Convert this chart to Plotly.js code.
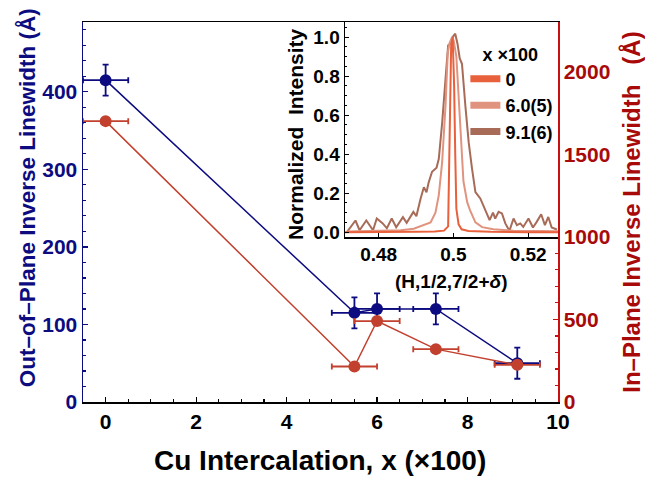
<!DOCTYPE html>
<html>
<head>
<meta charset="utf-8">
<script src="https://cdn.plot.ly/plotly-3.0.1.min.js"></script>
<style>html,body{margin:0;padding:0;background:#fff;}#chart{width:645px;height:479px;}</style>
</head>
<body>
<div id="chart"></div>
<script>
// ---- main panel data ----
const cuX = [0, 5.5, 6.0, 7.3, 9.1];
const cuXErr = [0.5, 0.5, 0.5, 0.5, 0.5];
const outPlane = [415, 115, 120, 120, 50];
const outPlaneErr = [20, 20, 20, 20, 20];
const inPlane = [1700, 215, 490, 320, 225];

// ---- inset data ----
const seriesNames = ["0", "6.0(5)", "9.1(6)"];
const seriesColors = ["#e8603c", "#e0937e", "#a86b58"];
const hX0 = [0.471, 0.480, 0.490, 0.495, 0.4975, 0.4986, 0.4990, 0.4994, 0.4998, 0.5002, 0.5005, 0.5008, 0.5014, 0.5022, 0.5040, 0.510, 0.520, 0.528];
const int0 = [0, 0, 0.002, 0.004, 0.008, 0.03, 0.6, 0.95, 1.0, 0.75, 0.4, 0.12, 0.04, 0.015, 0.006, 0.002, 0, 0];
const hX6 = [0.4715, 0.4805, 0.4859, 0.4894, 0.4921, 0.4939, 0.4952, 0.4961, 0.4970, 0.4979, 0.4985, 0.4990, 0.4997, 0.5001, 0.5008, 0.5014, 0.5021, 0.5027, 0.5037, 0.5045, 0.5059, 0.5077, 0.5107, 0.5161, 0.528];
const int6 = [0.003, 0.006, 0.01, 0.018, 0.035, 0.05, 0.10, 0.19, 0.36, 0.65, 0.92, 0.97, 1.0, 0.98, 0.9, 0.68, 0.43, 0.26, 0.154, 0.11, 0.05, 0.026, 0.015, 0.007, 0.005];
const hX9 = [0.4715, 0.4738, 0.4749, 0.4767, 0.4785, 0.4795, 0.4811, 0.4822, 0.4835, 0.4847, 0.4865, 0.4875, 0.4893, 0.4901, 0.4912, 0.4921, 0.4928, 0.4934, 0.4943, 0.4955, 0.4961, 0.4970, 0.4979, 0.4986, 0.4994, 0.4998, 0.5005, 0.5011, 0.5017, 0.5023, 0.5032, 0.5041, 0.5050, 0.5059, 0.5072, 0.5081, 0.5090, 0.5097, 0.5106, 0.5112, 0.5121, 0.5130, 0.5139, 0.5150, 0.5161, 0.5170, 0.5179, 0.5187, 0.5201, 0.5213, 0.5223, 0.5235, 0.5245, 0.5254, 0.5263, 0.5277];
const int9 = [0.0, 0.06, 0.01, 0.06, 0.01, 0.07, 0.045, 0.02, 0.07, 0.025, 0.077, 0.048, 0.104, 0.082, 0.17, 0.23, 0.205, 0.256, 0.31, 0.33, 0.376, 0.56, 0.786, 0.957, 0.966, 1.0, 1.017, 0.966, 0.89, 0.863, 0.65, 0.46, 0.325, 0.205, 0.173, 0.13, 0.087, 0.062, 0.1, 0.07, 0.104, 0.096, 0.045, 0.007, 0.07, 0.036, 0.045, 0.027, 0.07, 0.024, 0.053, 0.092, 0.036, 0.078, 0.024, 0.014];

const NAVY = "#0c0c80";
const RED = "#c2402e";
const DARKRED = "#a80a0a";
const AXRED = "#c81010";
const FONT = "Liberation Sans, Arial, sans-serif";

const insetX = [hX0, hX6, hX9];
const insetY = [int0, int6, int9];

const traces = [
  {x: cuX, y: outPlane, xaxis: "x", yaxis: "y", type: "scatter", mode: "lines+markers",
   line: {color: NAVY, width: 1.5}, marker: {color: NAVY, size: 12},
   error_y: {type: "data", array: outPlaneErr, color: NAVY, thickness: 1.8, width: 3},
   error_x: {type: "data", array: cuXErr, color: NAVY, thickness: 1.8, width: 3},
   showlegend: false},
  {x: cuX, y: inPlane, xaxis: "x", yaxis: "y2", type: "scatter", mode: "lines+markers",
   line: {color: RED, width: 1.5}, marker: {color: RED, size: 12},
   error_x: {type: "data", array: cuXErr, color: RED, thickness: 1.8, width: 3},
   showlegend: false}
];
// inset curves (widest first so the narrow peak is on top)
[2, 1, 0].forEach(i => {
  traces.push({x: insetX[i], y: insetY[i], xaxis: "x3", yaxis: "y3", type: "scatter", mode: "lines",
    name: seriesNames[i], legendgroup: "g" + i, showlegend: false,
    line: {color: seriesColors[i], width: 2}});
});
// legend entries (thick swatches, as in the reference legend)
[0, 1, 2].forEach(i => {
  traces.push({x: [null], y: [null], xaxis: "x3", yaxis: "y3", type: "scatter", mode: "lines",
    name: seriesNames[i], legendgroup: "g" + i, showlegend: true, hoverinfo: "skip",
    line: {color: seriesColors[i], width: 7}});
});

const tickBase = {ticks: "inside", showgrid: false, zeroline: false, showline: true};

const layout = {
  width: 645, height: 479,
  margin: {l: 83, r: 87, t: 22, b: 77, pad: 0},
  paper_bgcolor: "#ffffff", plot_bgcolor: "#ffffff",
  font: {family: FONT},
  xaxis: Object.assign({}, tickBase, {
    range: [-0.5, 10], domain: [0, 1], anchor: "y",
    linecolor: "#000", linewidth: 1.5, mirror: true,
    tick0: 0, dtick: 2, ticklen: 5, tickwidth: 1.2, tickcolor: "#000",
    minor: {dtick: 0.5, ticklen: 3, tickcolor: "#000", ticks: "inside", showgrid: false},
    tickfont: {family: FONT, size: 21, color: "#000", weight: 700}
  }),
  yaxis: Object.assign({}, tickBase, {
    range: [0, 490], anchor: "x",
    linecolor: NAVY, linewidth: 1.5,
    tick0: 0, dtick: 100, ticklen: 5, tickwidth: 1.2, tickcolor: NAVY,
    minor: {dtick: 20, ticklen: 3, tickcolor: NAVY, ticks: "inside", showgrid: false},
    tickfont: {family: FONT, size: 21, color: NAVY, weight: 700}
  }),
  yaxis2: Object.assign({}, tickBase, {
    range: [0, 2300], overlaying: "y", side: "right", anchor: "x",
    linecolor: AXRED, linewidth: 1.5,
    tick0: 0, dtick: 500, ticklen: 5, tickwidth: 1.2, tickcolor: AXRED,
    minor: {dtick: 100, ticklen: 3, tickcolor: AXRED, ticks: "inside", showgrid: false},
    tickfont: {family: FONT, size: 21, color: DARKRED, weight: 700}
  }),
  xaxis3: Object.assign({}, tickBase, {
    range: [0.471, 0.528], domain: [0.5516, 1], anchor: "y3",
    linecolor: "#000", linewidth: 1.5,
    tick0: 0.48, dtick: 0.02, ticklen: 4, tickcolor: "#000",
    tickfont: {family: FONT, size: 19, color: "#000", weight: 700}
  }),
  yaxis3: Object.assign({}, tickBase, {
    range: [-0.025, 1.077], domain: [0.434, 1], anchor: "x3",
    linecolor: "#000", linewidth: 1.5,
    tick0: 0, dtick: 0.2, tickformat: ".1f", ticklen: 4, tickcolor: "#000",
    minor: {dtick: 0.05, ticklen: 2, tickcolor: "#000", ticks: "inside", showgrid: false},
    tickfont: {family: FONT, size: 19, color: "#000", weight: 700}
  }),
  showlegend: true,
  legend: {
    x: 0.805, y: 0.96, xanchor: "left", yanchor: "top",
    bgcolor: "rgba(0,0,0,0)", borderwidth: 0,
    font: {family: FONT, size: 18, color: "#000", weight: 700},
    title: {text: "\u00a0\u00a0\u00a0x ×100", font: {family: FONT, size: 18, color: "#000", weight: 700}},
    traceorder: "normal"
  },
  annotations: [
    {xref: "paper", yref: "paper", x: -0.118, y: 0.539, xanchor: "center", yanchor: "middle",
     textangle: -90, showarrow: false,
     text: "<b>Out–of–Plane Inverse Linewidth (Å)</b>", font: {family: FONT, size: 22.5, color: NAVY}},
    {xref: "paper", yref: "paper", x: 1.156, y: 0.018, xanchor: "center", yanchor: "bottom",
     textangle: -90, showarrow: false,
     text: "<b>In–Plane Inverse Linewidth \u00a0\u00a0(Å)</b>", font: {family: FONT, size: 24, color: DARKRED}},
    {xref: "paper", yref: "paper", x: 0.499, y: -0.153, xanchor: "center", yanchor: "middle",
     showarrow: false,
     text: "<b>Cu Intercalation, x (×100)</b>", font: {family: FONT, size: 28, color: "#000"}},
    {xref: "paper", yref: "paper", x: 0.446, y: 0.705, xanchor: "center", yanchor: "middle",
     textangle: -90, showarrow: false,
     text: "<b>Normalized \u00a0Intensity</b>", font: {family: FONT, size: 21, color: "#000"}},
    {xref: "paper", yref: "paper", x: 0.775, y: 0.316, xanchor: "center", yanchor: "middle",
     showarrow: false,
     text: "<b>(H,1/2,7/2+<i>δ</i>)</b>", font: {family: FONT, size: 19, color: "#000"}}
  ]
};

Plotly.newPlot("chart", traces, layout, {displayModeBar: false, staticPlot: true});
</script>
</body>
</html>
